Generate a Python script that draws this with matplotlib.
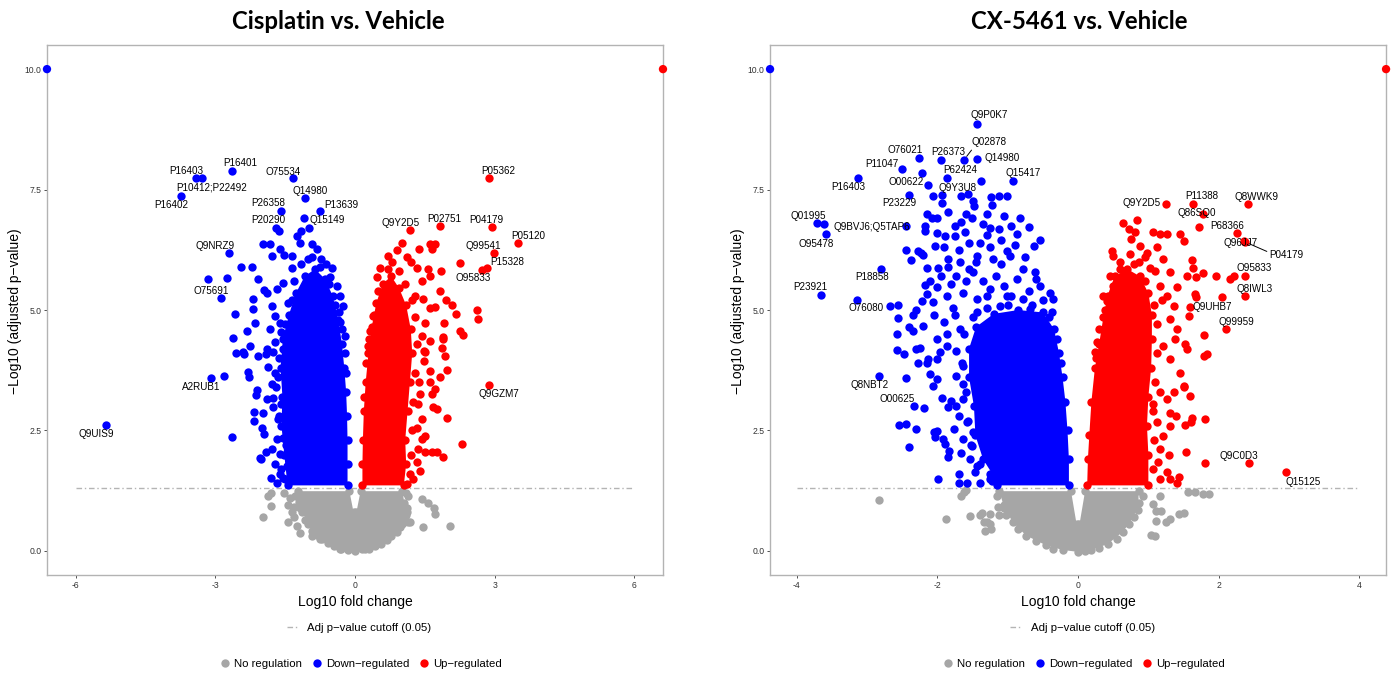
import matplotlib
matplotlib.use("Agg")
import matplotlib.pyplot as plt
from matplotlib.lines import Line2D
import numpy as np

plt.rcParams['font.family'] = ['Liberation Sans', 'DejaVu Sans']
plt.rcParams['axes.unicode_minus'] = False

# --- data: (log10 fold change, -log10 adj p-value) ---
p_cutoff = 0.05
y_cap = 10.0
y_ticks = [0.0, 2.5, 5.0, 7.5, 10.0]
cis_xticks = [-6, -3, 0, 3, 6]
cx_xticks = [-4, -2, 0, 2, 4]
group_names = ["No regulation", "Down\u2212regulated", "Up\u2212regulated"]

# Cisplatin vs. Vehicle
cis_down = [(-3.16, 5.64), (-2.74, 5.66), (-2.45, 5.89), (-2.22, 5.89), (-2.08, 5.64), (-2.58, 4.92),
            (-2.62, 4.41), (-1.97, 6.38), (-1.82, 6.38), (-1.79, 6.12), (-1.53, 6.15), (-1.61, 6.26),
            (-1.63, 6.64), (-1.15, 6.64), (-0.98, 6.70), (-1.36, 5.88), (-1.18, 6.39), (-0.93, 6.37),
            (-1.90, 5.36), (-2.33, 4.57), (-2.15, 4.74), (-2.26, 4.26), (-2.40, 4.12), (-2.20, 5.23),
            (-2.20, 5.02), (-1.95, 5.42), (-2.81, 3.63), (-1.25, 6.53), (-0.82, 6.26), (-0.72, 6.06),
            (-0.50, 5.88), (-0.54, 5.68), (-0.39, 5.50), (-0.32, 5.29), (-0.25, 5.09), (-0.32, 4.75),
            (-0.22, 4.46), (-1.36, 6.12), (-1.54, 5.57), (-1.68, 5.43), (-1.79, 5.09), (-1.72, 4.88),
            (-1.83, 4.60), (-1.72, 4.33), (-1.90, 4.19), (-1.54, 4.19), (-1.61, 4.74), (-2.56, 4.11),
            (-2.39, 4.09), (-2.29, 3.72), (-2.27, 3.62), (-2.18, 2.89), (-1.98, 2.86), (-2.18, 2.70),
            (-1.99, 2.55), (-1.95, 2.43), (-2.03, 1.91), (-1.92, 2.06), (-1.80, 1.52), (-2.10, 3.35),
            (-2.13, 3.24), (-2.65, 2.37), (-2.08, 4.05), (-1.91, 4.08), (-1.76, 4.12), (-1.86, 3.81),
            (-1.72, 3.70), (-1.79, 3.46), (-1.69, 3.40), (-1.76, 3.18), (-1.90, 3.15), (-1.76, 2.98),
            (-1.65, 2.73), (-1.68, 2.32), (-1.79, 2.11), (-1.61, 2.01), (-1.72, 1.80), (-1.61, 1.59),
            (-1.54, 1.52), (-1.68, 1.42), (-1.47, 1.76), (-1.49, 2.20), (-2.05, 1.92), (-1.00, 6.05),
            (-0.62, 5.95), (-1.50, 1.50), (-1.58, 1.70), (-1.55, 2.35), (-1.64, 2.80), (-1.60, 3.05),
            (-1.66, 3.60), (-1.63, 4.00), (-1.60, 4.55), (-1.50, 4.70), (-1.45, 5.15), (-1.35, 5.20),
            (-1.30, 5.60), (-1.15, 5.95), (-0.92, 6.10), (-0.75, 5.90), (-0.55, 5.55), (-0.42, 5.10),
            (-0.35, 4.95), (-0.28, 4.60), (-0.22, 4.10), (-0.20, 3.70)]
cis_up = [(2.26, 5.97), (1.00, 6.39), (0.90, 6.24), (0.72, 6.12), (1.38, 6.26), (1.61, 6.37),
          (1.72, 6.37), (1.65, 6.26), (1.85, 5.81), (1.83, 5.39), (1.96, 5.20), (2.08, 5.11),
          (2.17, 4.92), (2.62, 5.00), (2.64, 4.81), (2.26, 4.57), (2.32, 4.48), (1.92, 4.73),
          (1.90, 4.44), (1.86, 4.21), (1.71, 5.07), (1.61, 5.05), (1.51, 4.13), (1.51, 4.74),
          (1.58, 5.85), (1.61, 5.71), (0.54, 5.88), (0.47, 5.68), (0.57, 5.36), (0.39, 4.88),
          (0.32, 4.57), (0.29, 4.26), (1.11, 6.11), (1.33, 5.88), (1.43, 5.61), (1.29, 5.29),
          (1.47, 5.23), (1.43, 4.46), (2.31, 2.21), (1.97, 2.76), (1.51, 2.06), (1.65, 2.06),
          (1.76, 2.06), (1.89, 1.94), (1.51, 2.39), (1.94, 4.05), (1.98, 3.76), (1.83, 3.61),
          (1.61, 3.50), (1.72, 3.36), (1.65, 3.25), (1.68, 2.98), (1.76, 2.94), (1.49, 3.94),
          (1.61, 3.74), (1.38, 3.50), (1.40, 3.25), (1.36, 3.05), (1.43, 2.73), (1.33, 2.56),
          (1.43, 2.32), (1.36, 2.11), (1.33, 1.84), (1.40, 1.66), (1.25, 1.49), (1.11, 1.38),
          (1.48, 4.15), (1.61, 4.36), (1.90, 4.40), (0.80, 6.00), (1.20, 6.00), (1.18, 1.60),
          (1.20, 2.00), (1.22, 2.50), (1.25, 3.10), (1.30, 3.70), (1.33, 4.30), (1.30, 4.85),
          (1.22, 5.20), (1.08, 5.55), (0.95, 5.80), (0.70, 5.85), (0.50, 5.40), (0.40, 4.90),
          (0.30, 4.40), (0.24, 3.90), (0.20, 3.20)]
cis_none = [(-1.98, 0.71), (-1.81, 0.94), (-1.86, 1.13), (-1.80, 1.20), (-1.44, 0.61), (-1.45, 0.96),
            (-1.31, 0.71), (-0.93, 0.30), (-1.25, 0.52), (-1.18, 0.38), (-0.75, 0.24), (-0.32, 0.04),
            (-1.35, 0.81), (-1.31, 0.92), (-1.52, 1.20), (-1.40, 1.10), (1.44, 1.07), (1.57, 0.99),
            (1.69, 0.89), (1.73, 0.77), (1.46, 0.49), (2.05, 0.52), (1.11, 0.80), (1.18, 0.59),
            (1.00, 0.55), (0.65, 0.24), (0.22, 0.04), (1.14, 0.60), (1.04, 0.73), (1.15, 1.15),
            (-1.28, 1.15), (-1.18, 0.90), (-1.08, 0.65), (-0.92, 0.42), (-0.70, 0.25), (-0.45, 0.10),
            (-0.15, 0.02), (0.15, 0.03), (0.42, 0.10), (0.68, 0.22), (0.90, 0.40), (1.05, 0.60),
            (1.12, 0.90), (1.10, 1.20)]
# outlines of the solid, overplotted middle of each cloud
cis_down_core = [(-1.45, 1.36), (-0.16, 1.36), (-0.16, 1.8), (-0.16, 2.3), (-0.17, 2.8), (-0.19, 3.3),
                 (-0.23, 3.8), (-0.28, 4.3), (-0.36, 4.8), (-0.48, 5.3), (-0.65, 5.65), (-0.86, 5.85),
                 (-1.08, 5.7), (-1.27, 5.35), (-1.42, 4.9), (-1.55, 4.4), (-1.6, 3.8), (-1.56, 3.2),
                 (-1.58, 2.6), (-1.52, 2.0)]
cis_up_core = [(0.16, 1.36), (1.05, 1.36), (1.1, 1.8), (1.08, 2.3), (1.13, 2.9), (1.18, 3.5),
               (1.23, 4.1), (1.2, 4.6), (1.1, 5.1), (0.95, 5.45), (0.78, 5.7), (0.6, 5.55),
               (0.46, 5.15), (0.36, 4.65), (0.29, 4.1), (0.23, 3.5), (0.19, 2.9), (0.17, 2.3),
               (0.16, 1.8)]
cis_none_core = [(-1.22, 1.24), (-0.12, 1.24), (-0.03, 0.8), (0.03, 0.8), (0.12, 1.24), (1.02, 1.24),
                 (1.06, 1.0), (1.1, 0.75), (0.96, 0.5), (0.78, 0.3), (0.55, 0.15), (0.3, 0.05),
                 (0.0, 0.0), (-0.3, 0.05), (-0.58, 0.17), (-0.82, 0.33), (-1.0, 0.55), (-1.13, 0.8),
                 (-1.2, 1.02)]
cis_labels = [("P16401", -2.64, 7.88), ("P16403", -3.42, 7.73), ("P10412;P22492", -3.28, 7.73),
              ("P16402", -3.73, 7.37), ("O75534", -1.33, 7.73), ("Q14980", -1.08, 7.33),
              ("P26358", -1.60, 7.05), ("P13639", -0.75, 7.06), ("P20290", -1.70, 6.70),
              ("Q15149", -1.09, 6.92), ("Q9NRZ9", -2.70, 6.18), ("O75691", -2.89, 5.24),
              ("A2RUB1", -3.10, 3.58), ("Q9UIS9", -5.36, 2.61), ("Q9GZM7", 2.89, 3.45),
              ("P05362", 2.87, 7.73), ("Q9Y2D5", 1.18, 6.66), ("P02751", 1.82, 6.74),
              ("P04179", 2.94, 6.72), ("P05120", 3.51, 6.39), ("Q99541", 2.99, 6.18),
              ("P15328", 2.83, 5.88), ("O95833", 2.74, 5.84)]

# CX-5461 vs. Vehicle
cx_down = [(-2.22, 7.84), (-1.38, 7.68), (-2.06, 7.36), (-1.67, 7.36), (-1.56, 7.41), (-1.94, 7.22),
           (-1.49, 7.27), (-1.48, 7.16), (-1.24, 7.34), (-1.12, 7.37), (-1.01, 7.37), (-1.22, 7.18),
           (-3.61, 6.79), (-2.67, 5.09), (-2.56, 5.11), (-2.45, 6.25), (-2.37, 6.04), (-2.24, 6.19),
           (-2.20, 6.14), (-2.15, 7.00), (-2.07, 6.91), (-2.17, 6.75), (-2.18, 6.64), (-0.83, 6.90),
           (-0.70, 6.73), (-0.63, 6.32), (-0.54, 6.46), (-2.17, 5.52), (-2.15, 5.34), (-2.22, 5.19),
           (-2.34, 4.89), (-2.56, 4.83), (-2.04, 6.33), (-1.89, 6.54), (-1.85, 7.03), (-2.01, 6.92),
           (-1.66, 6.82), (-1.51, 6.92), (-1.35, 6.78), (-1.25, 6.71), (-1.13, 6.68), (-1.75, 6.54),
           (-1.61, 6.61), (-1.40, 6.40), (-1.25, 6.30), (-1.01, 6.23), (-0.87, 6.57), (-0.78, 5.85),
           (-0.61, 5.78), (-0.97, 6.12), (-1.21, 6.06), (-1.44, 6.12), (-1.68, 5.99), (-1.85, 6.06),
           (-1.99, 5.88), (-2.15, 5.88), (-2.27, 6.23), (-1.73, 5.71), (-1.49, 5.78), (-1.16, 5.71),
           (-0.87, 5.64), (-0.54, 5.50), (-0.40, 5.36), (-0.35, 5.23), (-0.37, 4.95), (-2.01, 5.47),
           (-1.87, 5.29), (-2.06, 5.16), (-1.63, 5.36), (-1.44, 5.23), (-1.25, 5.43), (-1.01, 5.29),
           (-0.78, 5.23), (-1.78, 5.05), (-1.44, 4.95), (-1.11, 5.09), (-0.68, 5.02), (-0.57, 4.88),
           (-2.45, 3.58), (-2.19, 2.96), (-2.54, 2.61), (-2.44, 2.63), (-2.31, 2.54), (-2.41, 2.15),
           (-1.99, 1.49), (-2.57, 4.50), (-2.57, 4.17), (-2.47, 4.08), (-2.40, 4.64), (-2.30, 4.19),
           (-2.25, 4.22), (-2.27, 3.91), (-2.15, 3.91), (-2.13, 3.98), (-2.05, 2.46), (-2.01, 2.49),
           (-2.04, 2.37), (-1.92, 2.33), (-1.76, 2.53), (-1.89, 2.22), (-1.83, 2.08), (-1.85, 1.94),
           (-1.93, 3.17), (-1.81, 3.11), (-1.85, 2.98), (-1.73, 3.00), (-1.70, 2.79), (-1.63, 3.15),
           (-1.70, 1.59), (-1.70, 1.41), (-1.58, 1.41), (-1.47, 1.63), (-1.40, 1.42), (-1.23, 1.45),
           (-2.10, 3.67), (-2.01, 3.56), (-2.06, 3.43), (-2.01, 3.98), (-1.96, 4.12), (-1.87, 4.26),
           (-1.73, 4.15), (-2.01, 4.40), (-1.87, 4.50), (-1.68, 4.60), (-2.20, 4.67), (-2.34, 4.57),
           (-1.63, 3.84), (-1.73, 3.63), (-1.63, 3.46), (-1.58, 2.67), (-1.63, 2.32), (-1.66, 2.04),
           (-1.54, 1.90), (-1.44, 1.76), (-1.51, 2.18), (-1.49, 2.46), (-1.25, 1.59),
           (-1.25, 1.50), (-1.40, 1.80), (-1.52, 2.20), (-1.56, 2.70), (-1.60, 3.30), (-1.65, 3.90),
           (-1.62, 4.50), (-1.50, 4.85), (-1.30, 5.05), (-1.00, 5.10), (-0.65, 5.10), (-0.42, 4.85),
           (-0.30, 4.40), (-0.24, 3.90), (-2.10, 5.60), (-1.95, 5.70), (-1.80, 5.55), (-1.60, 5.60),
           (-1.35, 5.60), (-1.05, 5.50), (-0.70, 5.40), (-0.50, 5.20), (-1.90, 6.30), (-1.70, 6.25),
           (-1.55, 6.40), (-1.30, 6.55), (-1.10, 6.45), (-0.90, 6.35), (-0.75, 6.10), (-1.60, 7.00),
           (-1.30, 7.00), (-1.05, 6.95), (-0.95, 6.75), (-1.45, 6.00), (-1.10, 5.95), (-1.75, 6.75),
           (-2.00, 6.60), (-1.85, 5.90), (-1.55, 5.85), (-1.30, 5.30), (-0.95, 5.30), (-0.60, 5.65),
           (-2.30, 5.00), (-2.05, 4.90), (-1.90, 4.75), (-1.75, 4.90)]
cx_up = [(1.72, 6.73), (2.16, 5.64), (2.22, 5.70), (1.96, 5.71), (2.05, 5.26), (1.58, 4.88),
         (1.79, 4.48), (1.83, 4.08), (1.79, 4.05), (1.55, 5.71), (1.68, 5.68), (1.78, 5.76),
         (1.62, 6.04), (1.64, 5.88), (1.41, 5.47), (1.45, 6.57), (1.50, 6.44), (1.67, 5.33),
         (1.68, 5.26), (1.52, 4.29), (1.55, 4.19), (0.64, 6.80), (0.84, 6.87), (0.73, 6.68),
         (0.81, 6.61), (0.76, 6.47), (1.07, 6.62), (1.17, 6.57), (1.26, 6.57), (0.48, 6.23),
         (0.50, 6.12), (0.36, 5.29), (0.41, 5.19), (0.27, 4.33), (0.24, 4.12), (0.60, 5.85),
         (0.88, 6.33), (0.98, 6.19), (1.12, 6.30), (1.21, 6.06), (1.31, 5.78), (1.02, 5.88),
         (0.86, 5.99), (0.74, 6.16), (0.65, 5.64), (0.50, 5.50), (1.17, 5.50), (1.26, 5.29),
         (1.36, 5.09), (1.31, 4.81), (1.41, 4.60), (1.38, 4.39), (1.21, 4.26), (1.31, 3.98),
         (1.45, 3.70), (1.50, 3.43), (1.80, 1.82), (1.54, 2.06), (1.81, 2.73), (1.59, 3.22),
         (1.51, 3.41), (1.62, 2.75), (1.60, 2.67), (1.52, 2.62), (1.43, 1.54), (1.41, 1.42),
         (1.29, 1.99), (1.16, 2.11), (1.14, 1.84), (1.26, 1.63), (1.31, 1.49), (1.17, 1.49),
         (1.31, 2.60), (1.40, 2.80), (1.21, 2.39), (1.31, 2.87), (1.12, 2.67), (1.26, 3.15),
         (1.36, 3.29), (1.07, 3.05), (1.17, 3.29), (1.07, 1.70), (1.08, 2.30), (1.06, 2.90),
         (1.10, 3.50), (1.12, 4.10), (1.12, 4.70), (1.08, 5.10), (0.95, 5.60), (0.80, 5.95),
         (0.60, 6.00), (0.45, 5.70), (0.38, 5.00), (0.30, 4.60), (0.25, 4.00), (0.95, 6.10),
         (1.10, 5.80), (1.20, 5.20)]
cx_none = [(-2.83, 1.06), (-1.88, 0.66), (-1.67, 1.13), (-1.62, 1.23), (-1.54, 0.73), (-1.40, 0.75),
           (-1.25, 0.76), (-1.34, 0.60), (-1.25, 0.56), (-1.33, 0.42), (-1.14, 0.92), (-1.05, 0.96),
           (-1.13, 0.75), (-1.24, 0.45), (-1.30, 0.60), (-1.37, 0.78), (-1.00, 0.81), (-1.59, 1.27),
           (1.56, 1.23), (1.78, 1.18), (1.44, 0.76), (1.25, 0.59), (1.11, 0.63), (1.11, 0.82),
           (1.04, 0.33), (1.07, 0.98), (1.16, 1.14), (1.18, 0.83), (1.31, 0.66), (1.50, 0.78),
           (1.66, 1.22), (1.86, 1.19), (1.09, 0.31), (-1.15, 1.15), (-1.02, 0.75), (-0.85, 0.45),
           (-0.60, 0.20), (-0.35, 0.05), (0.10, 0.00), (0.30, 0.07), (0.55, 0.25), (0.73, 0.55),
           (0.85, 0.85), (0.92, 1.15)]
cx_down_core = [(-1.15, 1.36), (-0.13, 1.36), (-0.13, 1.9), (-0.15, 2.5), (-0.18, 3.1), (-0.22, 3.6),
                (-0.27, 4.1), (-0.34, 4.6), (-0.5, 4.95), (-0.85, 5.0), (-1.2, 4.92), (-1.45, 4.65),
                (-1.55, 4.2), (-1.55, 3.6), (-1.48, 3.0), (-1.46, 2.4), (-1.35, 1.9), (-1.22, 1.6)]
cx_up_core = [(0.13, 1.36), (1.0, 1.36), (1.0, 2.0), (0.98, 2.6), (1.0, 3.2), (1.04, 3.8),
              (1.05, 4.4), (1.05, 4.9), (1.0, 5.35), (0.88, 5.7), (0.7, 5.85), (0.52, 5.7),
              (0.42, 5.3), (0.36, 4.85), (0.3, 4.3), (0.24, 3.8), (0.19, 3.1), (0.16, 2.4),
              (0.14, 1.9)]
cx_none_core = [(-1.12, 1.24), (-0.1, 1.24), (-0.02, 0.55), (0.02, 0.55), (0.1, 1.24), (0.86, 1.24),
                (0.86, 1.0), (0.79, 0.7), (0.64, 0.4), (0.42, 0.14), (0.18, 0.02), (0.0, -0.02),
                (-0.22, 0.02), (-0.46, 0.12), (-0.74, 0.32), (-0.93, 0.6), (-1.05, 0.9)]
cx_labels = [("Q9P0K7", -1.43, 8.86), ("Q02878", -1.62, 8.12), ("P26373", -1.95, 8.12),
             ("Q14980", -1.44, 8.14), ("O76021", -2.26, 8.16), ("P11047", -2.50, 7.92),
             ("P16403", -3.13, 7.74), ("O00622", -2.13, 7.60), ("P62424", -1.86, 7.75),
             ("Q15417", -0.92, 7.68), ("Q9Y3U8", -1.93, 7.39), ("P23229", -2.41, 7.39),
             ("Q01995", -3.71, 6.81), ("Q9BVJ6;Q5TAP6", -2.44, 6.75), ("O95478", -3.59, 6.57),
             ("P18858", -2.80, 5.85), ("P23921", -3.66, 5.31), ("O76080", -3.15, 5.20),
             ("Q8NBT2", -2.83, 3.64), ("O00625", -2.33, 3.01), ("Q9Y2D5", 1.25, 7.20),
             ("P11388", 1.63, 7.20), ("Q8WWK9", 2.41, 7.20), ("Q86SQ0", 1.78, 7.00),
             ("P68366", 2.26, 6.59), ("Q96JJ7", 2.36, 6.43), ("P04179", 2.38, 6.41),
             ("O95833", 2.37, 5.71), ("Q8IWL3", 2.38, 5.29), ("Q9UHB7", 1.59, 5.06),
             ("Q99959", 2.10, 4.61), ("Q9C0D3", 2.43, 1.83), ("Q15125", 2.96, 1.63)]

# label placement (offset of text centre from its point, in points)
cis_offsets = {"P16401": (6, 6), "P16403": (-7, 5.5), "P10412;P22492": (7, -6.5), "P16402": (-7, -6.5),
               "O75534": (-7, 5), "Q14980": (4, 5), "P26358": (-9, 6), "P13639": (15, 4.5),
               "P20290": (-5.5, 5.5), "Q15149": (16.5, -2), "Q9NRZ9": (-10, 5.3), "O75691": (-7, 5.5),
               "A2RUB1": (-7, -6.3), "Q9UIS9": (-7, -6), "Q9GZM7": (7, -6.5), "P05362": (7, 5.3),
               "Q9Y2D5": (-6.5, 5), "P02751": (3.3, 5), "P04179": (-3.6, 5.3), "P05120": (7, 5),
               "Q99541": (-7.7, 5), "P15328": (15, 4), "O95833": (-6.5, -6.2)}
cx_offsets = {"Q9P0K7": (8.4, 6.5), "Q02878": (18.2, 12.5), "P26373": (5, 5.3), "Q14980": (18.2, 0.7),
              "O76021": (-10.3, 5.8), "P11047": (-15, 4.1), "P16403": (-6.7, -6.5), "O00622": (-16.3, 1.9),
              "P62424": (9.6, 5.3), "Q15417": (6.8, 5.5), "Q9Y3U8": (11.2, 5.3), "P23229": (-7, -6),
              "Q01995": (-6.5, 4.8), "Q9BVJ6;Q5TAP6": (-24.7, -1.2), "O95478": (-6.7, -7),
              "P18858": (-6.9, -6), "P23921": (-7.2, 5.5), "O76080": (7.2, -5.5), "Q8NBT2": (-6.7, -7),
              "O00625": (-12, 4.8), "Q9Y2D5": (-17.3, 0.7), "P11388": (6.5, 5.5), "Q8WWK9": (6.8, 4.8),
              "Q86SQ0": (-4.8, 0.7), "P68366": (-6.8, 5.5), "Q96JJ7": (-2.4, -1.7), "P04179": (29.7, -9.4),
              "O95833": (7, 5.3), "Q8IWL3": (6.5, 4.8), "Q9UHB7": (16.3, 0), "Q99959": (7.5, 5),
              "Q9C0D3": (-7.2, 4.8), "Q15125": (12, -6.8)}
cx_leaders = {"Q02878": (0.05, 0.0), "P04179": (0.0, 0.75)}

grey, blue, red = "#a6a6a6", "#0000ff", "#ff0000"
dot = 36


def draw_panel(ax, clouds, labels, offsets, leaders, xticks, xhalf):
    cut = -np.log10(p_cutoff)
    ax.plot([xticks[0], xticks[-1]], [cut, cut], color="#b4b4b4", lw=1.0,
            dashes=(4, 2, 1, 2), zorder=1)
    for core, pts, col in clouds:
        cx, cy = zip(*core)
        ax.fill(cx, cy, color=col, lw=0, zorder=2)
        ax.scatter(cx, cy, s=dot, c=col, lw=0, zorder=2)
        px, py = zip(*pts)
        ax.scatter(px, py, s=dot, c=col, lw=0, zorder=2)
    for name, x, y in labels:
        col = red if x > 0 else blue
        ax.scatter([x], [y], s=dot, c=col, lw=0, zorder=3)
        kw = {}
        if name in leaders:
            kw["arrowprops"] = dict(arrowstyle="-", lw=0.7, color="black",
                                    relpos=leaders[name], shrinkA=0, shrinkB=3)
        ax.annotate(name, (x, y), xytext=offsets[name], textcoords="offset points",
                    ha="center", va="center", fontsize=7.1, zorder=4, **kw)
    # capped points (p = 0) sit on the panel edges
    ax.scatter([-xhalf, xhalf], [y_cap, y_cap], s=dot, c=[blue, red], lw=0,
               zorder=3, clip_on=False)

    ax.set_xlim(-xhalf, xhalf)
    ax.set_ylim(-0.5, 10.5)
    ax.set_xticks(xticks)
    ax.set_xticklabels([str(t) for t in xticks])
    ax.set_yticks(y_ticks)
    ax.set_yticklabels(["%.1f" % t for t in y_ticks])
    ax.tick_params(length=2.5, width=0.6, pad=1.5, labelsize=6.2, colors="#333333")
    for sp in ax.spines.values():
        sp.set_color("#b3b3b3")
        sp.set_linewidth(1.0)
    ax.set_xlabel("Log10 fold change", fontsize=10)
    ax.set_ylabel("\u2212Log10 (adjusted p\u2212value)", fontsize=10)
    ax.xaxis.set_label_coords(0.5, -0.038)
    ax.yaxis.set_label_coords(-0.040, 0.497)

    cut_handle = [Line2D([], [], color="#b4b4b4", lw=1.0, dashes=(4, 2, 1, 2))]
    leg1 = ax.legend(cut_handle, ["Adj p\u2212value cutoff (0.05)"], loc="center",
                     bbox_to_anchor=(0.507, -0.10), frameon=False, fontsize=8.2,
                     handlelength=1.0, handletextpad=0.8)
    ax.add_artist(leg1)
    dots = [Line2D([], [], ls="", marker="o", ms=6, mew=0, color=c) for c in (grey, blue, red)]
    ax.legend(dots, group_names, loc="center", bbox_to_anchor=(0.51, -0.168), ncol=3,
              frameon=False, fontsize=8.2, handlelength=0.8, handletextpad=0.4,
              columnspacing=0.9)


fig = plt.figure(figsize=(13.94, 6.73), dpi=100)
ax1 = fig.add_axes([0.0337, 0.1456, 0.4419, 0.7875])
ax2 = fig.add_axes([0.5524, 0.1456, 0.4419, 0.7875])

draw_panel(ax1, [(cis_none_core, cis_none, grey), (cis_down_core, cis_down, blue),
                 (cis_up_core, cis_up, red)],
           cis_labels, cis_offsets, {}, cis_xticks, 6.62)
draw_panel(ax2, [(cx_none_core, cx_none, grey), (cx_down_core, cx_down, blue),
                 (cx_up_core, cx_up, red)],
           cx_labels, cx_offsets, cx_leaders, cx_xticks, 4.38)

fig.text(0.2425, 0.9565, "Cisplatin vs. Vehicle", ha="center", va="baseline",
         fontsize=17.3, fontweight="bold", family=["Lato", "Liberation Sans"])
fig.text(0.774, 0.9565, "CX-5461 vs. Vehicle", ha="center", va="baseline",
         fontsize=17.3, fontweight="bold", family=["Lato", "Liberation Sans"])

fig.savefig("out.png", dpi=100)
